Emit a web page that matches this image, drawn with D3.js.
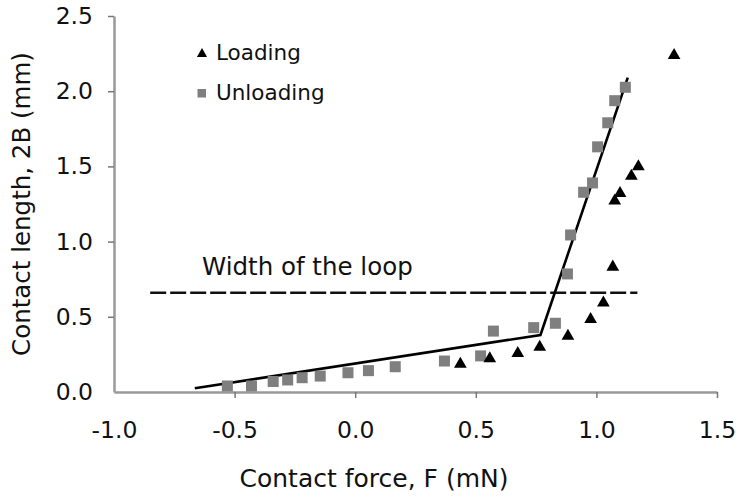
<!DOCTYPE html>
<html>
<head>
  <meta charset="utf-8">
  <title>Contact length vs force</title>
  <style>
    body { margin: 0; background: #fff; }
    text { font-family: "DejaVu Sans", Verdana, sans-serif; fill: #111; }
  </style>
</head>
<body>
  <script src="https://cdn.jsdelivr.net/npm/d3@7"></script>
  <script>

      // loading points (F in mN, 2B in mm)
      var loadF = [0.436, 0.558, 0.674, 0.765, 0.882, 0.976, 1.029, 1.068, 1.076, 1.098, 1.145, 1.174, 1.322];
      var loadL = [0.193, 0.229, 0.264, 0.306, 0.379, 0.49, 0.60, 0.838, 1.277, 1.328, 1.443, 1.505, 2.245];

      // unloading points
      var unloadF = [-0.53, -0.43, -0.34, -0.28, -0.22, -0.145, -0.03, 0.055, 0.166, 0.37, 0.52, 0.573, 0.74, 0.83, 0.88, 0.893, 0.947, 0.984, 1.005, 1.047, 1.076, 1.12];
      var unloadL = [0.04, 0.04, 0.07, 0.08, 0.095, 0.106, 0.128, 0.142, 0.168, 0.206, 0.24, 0.405, 0.428, 0.457, 0.785, 1.044, 1.328, 1.39, 1.63, 1.79, 1.937, 2.026];

      // bilinear fit
      var fitF = [-0.665, 0.768, 1.13];
      var fitL = [0.025, 0.379, 2.09];

      // width of the loop
      var loopF = [-0.85, 1.17];
      var loopL = 0.66;

      var xTicks = [-1.0, -0.5, 0.0, 0.5, 1.0, 1.5];
      var yTicks = [0.0, 0.5, 1.0, 1.5, 2.0, 2.5];

      var w = 736;
      var h = 498;
      var margin = {left: 114, right: 19, top: 16, bottom: 106};

      var svg = d3.select("body").append("svg").attr("width", w).attr("height", h);

      var x = d3.scaleLinear().domain([-1.0, 1.5]).range([margin.left, w - margin.right]);
      var y = d3.scaleLinear().domain([0, 2.5]).range([h - margin.bottom, margin.top]);

      var fmt = function(d){ return d.toFixed(1); };

      var xAxis = svg.append("g")
        .attr("transform", "translate(0," + y(0) + ")")
        .call(d3.axisBottom(x).tickValues(xTicks).tickFormat(fmt).tickSize(6).tickSizeOuter(0).tickPadding(23));
      xAxis.selectAll("text").style("font-size", "23.5px");

      var yAxis = svg.append("g")
        .attr("transform", "translate(" + x(-1.0) + ",0)")
        .call(d3.axisLeft(y).tickValues(yTicks).tickFormat(fmt).tickSize(6).tickSizeOuter(0).tickPadding(15));
      yAxis.selectAll("text").style("font-size", "23.5px");

      svg.selectAll(".domain").attr("stroke", "#999").attr("stroke-width", 2.5);
      svg.selectAll(".tick line").attr("stroke", "#777").attr("stroke-width", 1.5);
      // no tick mark at the corner
      xAxis.selectAll(".tick").filter(function(d){ return d === -1.0; }).select("line").remove();
      yAxis.selectAll(".tick").filter(function(d){ return d === 0; }).select("line").remove();
      svg.selectAll(".tick text").attr("fill", "#111");

      // axis titles
      svg.append("text")
        .attr("x", 374)
        .attr("y", 487)
        .attr("text-anchor", "middle")
        .style("font-size", "25px")
        .text("Contact force, F (mN)");

      svg.append("text")
        .attr("transform", "translate(30,204) rotate(-90)")
        .attr("text-anchor", "middle")
        .style("font-size", "24.5px")
        .text("Contact length, 2B (mm)");

      // dashed loop width line
      svg.append("line")
        .attr("x1", x(loopF[0])).attr("x2", x(loopF[1]))
        .attr("y1", y(loopL)).attr("y2", y(loopL))
        .attr("stroke", "#111").attr("stroke-width", 2.6)
        .attr("stroke-dasharray", "16,4");

      svg.append("text")
        .attr("x", 202)
        .attr("y", 275)
        .style("font-size", "24.5px")
        .text("Width of the loop");

      // fit line
      var fit = fitF.map(function(f, i){ return [f, fitL[i]]; });
      svg.append("path")
        .datum(fit)
        .attr("fill", "none")
        .attr("stroke", "#000")
        .attr("stroke-width", 2.6)
        .attr("d", d3.line().x(function(d){ return x(d[0]); }).y(function(d){ return y(d[1]); }));

      var sq = 11;
      var unload = unloadF.map(function(f, i){ return [f, unloadL[i]]; });
      svg.selectAll("rect.unload")
        .data(unload)
        .enter()
        .append("rect")
        .attr("class", "unload")
        .attr("x", function(d){ return x(d[0]) - sq / 2; })
        .attr("y", function(d){ return y(d[1]) - sq / 2; })
        .attr("width", sq)
        .attr("height", sq)
        .attr("fill", "#7f7f7f");

      var tri = d3.symbol().type(d3.symbolTriangle).size(70);
      var load = loadF.map(function(f, i){ return [f, loadL[i]]; });
      svg.selectAll("path.load")
        .data(load)
        .enter()
        .append("path")
        .attr("class", "load")
        .attr("transform", function(d){ return "translate(" + x(d[0]) + "," + (y(d[1]) + 1) + ")"; })
        .attr("d", tri)
        .attr("fill", "#000");

      // legend
      svg.append("path")
        .attr("transform", "translate(202,54)")
        .attr("d", d3.symbol().type(d3.symbolTriangle).size(45))
        .attr("fill", "#000");
      svg.append("text").attr("x", 216).attr("y", 60).style("font-size", "21.5px").text("Loading");

      svg.append("rect")
        .attr("x", 197.5).attr("y", 89).attr("width", 8.5).attr("height", 8.5)
        .attr("fill", "#7f7f7f");
      svg.append("text").attr("x", 216).attr("y", 100).style("font-size", "21.5px").text("Unloading");

  </script>
</body>
</html>
